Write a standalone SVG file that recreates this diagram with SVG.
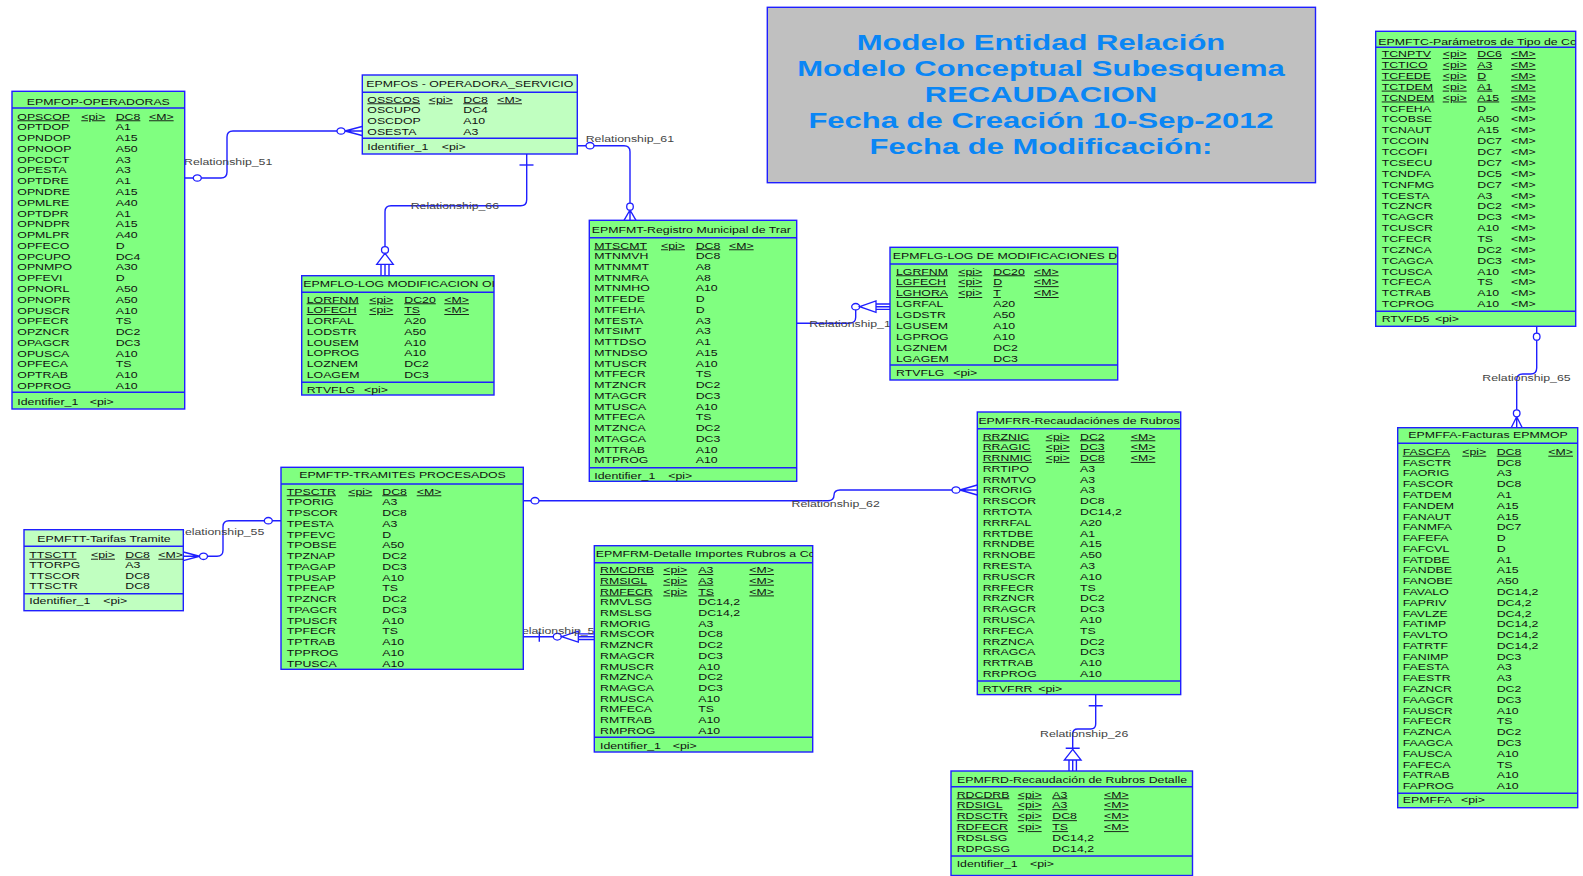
<svg xmlns="http://www.w3.org/2000/svg" width="1583" height="876" viewBox="0 0 1583 876">
<style>
.t{font-family:"Liberation Sans",Arial,sans-serif;font-size:9px;fill:#111}
.u{text-decoration:underline}
.rl{font-family:"Liberation Sans",Arial,sans-serif;font-size:9px;fill:#444}
.box{fill:#80ff80;stroke:#1f1fff;stroke-width:1.4}
.lt{fill:#c0ffc0}
.sep{fill:none;stroke:#1f1fff;stroke-width:1.4}
.c{fill:none;stroke:#1f1fff;stroke-width:1.4}
.o{fill:#fff;stroke:#1f1fff;stroke-width:1.3}
.ttl{font-family:"Liberation Sans",Arial,sans-serif;font-size:22px;font-weight:bold;fill:#0a86f5}
</style>
<defs>
<clipPath id="cLO"><rect x="301.7" y="275.7" width="192.3" height="119.3"/></clipPath>
<clipPath id="cMT"><rect x="589.3" y="220.3" width="207.4" height="261"/></clipPath>
<clipPath id="cLG"><rect x="890" y="247.3" width="227.7" height="132.7"/></clipPath>
<clipPath id="cTC"><rect x="1375.7" y="31.3" width="200" height="295"/></clipPath>
<clipPath id="cRM"><rect x="594.3" y="545.7" width="218.4" height="206.3"/></clipPath>
</defs>
<rect width="1583" height="876" fill="#fff"/>

<g id="connectors">
<path class="c" d="M184.7,178 H221 Q227,178 227,172 V137 Q227,131 233,131 H345"/>
<path class="c" d="M345,131 L362,126.5 M345,131 L362,131 M345,131 L362,135.5"/>
<ellipse class="o" cx="197.3" cy="178" rx="4" ry="3.2"/>
<ellipse class="o" cx="341" cy="131" rx="4" ry="3.2"/>
<text class="rl" transform="translate(184,164.9) scale(1.37,1)">Relationship_51</text>
<path class="c" d="M577.3,145.7 H624 Q630,145.7 630,151.7 V210"/>
<path class="c" d="M630,210 L624,220.3 M630,210 L630,220.3 M630,210 L636,220.3"/>
<ellipse class="o" cx="590" cy="145.7" rx="4" ry="3.2"/>
<ellipse class="o" cx="630" cy="206.7" rx="3.3" ry="3.5"/>
<text class="rl" transform="translate(585.7,141.5) scale(1.37,1)">Relationship_61</text>
<path class="c" d="M526.7,154 V199.7 Q526.7,205.7 520.7,205.7 H391 Q385,205.7 385,211.7 V247"/>
<path class="c" d="M519.5,165 H533.5"/>
<ellipse class="o" cx="385" cy="250" rx="3.5" ry="3.3"/>
<path class="o" d="M385,253.3 L376.7,264.3 H393.3 Z"/>
<path class="c" d="M381,264.3 V275.7 M385,264.3 V275.7 M389,264.3 V275.7"/>
<text class="rl" transform="translate(410.7,209.2) scale(1.37,1)">Relationship_66</text>
<path class="c" d="M796.7,323.3 H849 Q855.7,323.3 855.7,317.3 V310"/>
<ellipse class="o" cx="855.7" cy="306.7" rx="4" ry="3.2"/>
<path class="o" d="M859.7,306.7 L876,301 V312.3 Z"/>
<path class="c" d="M876,304 H890 M876,306.7 H890 M876,309.4 H890"/>
<text class="rl" transform="translate(809.3,326.5) scale(1.37,1)">Relationship_1</text>
<path class="c" d="M523.3,500.7 H828 Q834,500.7 834,495.3 Q834,490 840,490 H960"/>
<path class="c" d="M960,490 L977.3,485 M960,490 L977.3,490 M960,490 L977.3,495"/>
<ellipse class="o" cx="535" cy="500.7" rx="4" ry="3.2"/>
<ellipse class="o" cx="956" cy="490" rx="4" ry="3.2"/>
<text class="rl" transform="translate(791.5,507) scale(1.37,1)">Relationship_62</text>
<path class="c" d="M1536.7,326.3 V368 Q1536.7,374 1530.7,374 H1522.7 Q1516.7,374 1516.7,380 V416.7"/>
<path class="c" d="M1516.7,416.7 L1511.2,427.7 M1516.7,416.7 V427.7 M1516.7,416.7 L1522.2,427.7"/>
<ellipse class="o" cx="1536.7" cy="336.7" rx="3.3" ry="3.5"/>
<ellipse class="o" cx="1516.7" cy="413.3" rx="3.3" ry="3.5"/>
<text class="rl" transform="translate(1482.3,380.9) scale(1.37,1)">Relationship_65</text>
<path class="c" d="M1095.7,694.6 V724 Q1095.7,729 1090.7,729 H1077.7 Q1072.7,729 1072.7,734 V749.3"/>
<path class="c" d="M1088.7,705.7 H1102.7 M1065.7,748.3 H1079.7"/>
<path class="o" d="M1072.7,749.3 L1064.3,760 H1081.1 Z"/>
<path class="c" d="M1069,760 V771 M1072.7,760 V771 M1076.4,760 V771"/>
<text class="rl" transform="translate(1040,736.5) scale(1.37,1)">Relationship_26</text>
<path class="c" d="M281,520.7 H229 Q223,520.7 223,526.7 V550.3 Q223,556.3 217,556.3 H199.5"/>
<path class="c" d="M199.5,556.3 L183.3,552 M199.5,556.3 L183.3,556.3 M199.5,556.3 L183.3,560.6"/>
<ellipse class="o" cx="268.3" cy="520.7" rx="4" ry="3.2"/>
<ellipse class="o" cx="203.5" cy="556.3" rx="4" ry="3.2"/>
<text class="rl" transform="translate(176,535.2) scale(1.37,1)">Relationship_55</text>
<path class="c" d="M523.3,636.7 H561.7 M539.3,631.7 V641.7"/>
<ellipse class="o" cx="557.3" cy="636.7" rx="4" ry="3.4"/>
<path class="o" d="M561.7,636.7 L578.3,631.2 V642.2 Z"/>
<path class="c" d="M578.3,633.9 H594.3 M578.3,636.7 H594.3 M578.3,639.5 H594.3"/>
<text class="rl" transform="translate(513,633.9) scale(1.37,1)">Relationship_5</text>
</g>

<g id="title">
<rect x="767.3" y="7.3" width="548.2" height="175.4" fill="#c0c0c0" stroke="#1f1fff" stroke-width="1.4"/>
<text class="ttl" text-anchor="middle" transform="translate(1041,50.1) scale(1.41,1)">Modelo Entidad Relación</text>
<text class="ttl" text-anchor="middle" transform="translate(1041,76.1) scale(1.41,1)">Modelo Conceptual Subesquema</text>
<text class="ttl" text-anchor="middle" transform="translate(1041,101.8) scale(1.41,1)">RECAUDACION</text>
<text class="ttl" text-anchor="middle" transform="translate(1041,127.8) scale(1.41,1)">Fecha de Creación 10-Sep-2012</text>
<text class="ttl" text-anchor="middle" transform="translate(1041,153.8) scale(1.41,1)">Fecha de Modificación:</text>
</g>

<g id="EPMFOP">
<rect class="box" x="12" y="91.3" width="172.7" height="317.7"/>
<path class="sep" d="M12,108H184.7M12,392.3H184.7"/>
<text class="t" text-anchor="middle" transform="translate(98.3,104.5) scale(1.37,1)">EPMFOP-OPERADORAS</text>
<text class="t" transform="translate(17.3,119.5) scale(1.37,1)"><tspan x="0" class="u">OPSCOP</tspan><tspan x="0" dy="10.78">OPTDOP</tspan><tspan x="0" dy="10.78">OPNDOP</tspan><tspan x="0" dy="10.78">OPNOOP</tspan><tspan x="0" dy="10.78">OPCDCT</tspan><tspan x="0" dy="10.78">OPESTA</tspan><tspan x="0" dy="10.78">OPTDRE</tspan><tspan x="0" dy="10.78">OPNDRE</tspan><tspan x="0" dy="10.78">OPMLRE</tspan><tspan x="0" dy="10.78">OPTDPR</tspan><tspan x="0" dy="10.78">OPNDPR</tspan><tspan x="0" dy="10.78">OPMLPR</tspan><tspan x="0" dy="10.78">OPFECO</tspan><tspan x="0" dy="10.78">OPCUPO</tspan><tspan x="0" dy="10.78">OPNMPO</tspan><tspan x="0" dy="10.78">OPFEVI</tspan><tspan x="0" dy="10.78">OPNORL</tspan><tspan x="0" dy="10.78">OPNOPR</tspan><tspan x="0" dy="10.78">OPUSCR</tspan><tspan x="0" dy="10.78">OPFECR</tspan><tspan x="0" dy="10.78">OPZNCR</tspan><tspan x="0" dy="10.78">OPAGCR</tspan><tspan x="0" dy="10.78">OPUSCA</tspan><tspan x="0" dy="10.78">OPFECA</tspan><tspan x="0" dy="10.78">OPTRAB</tspan><tspan x="0" dy="10.78">OPPROG</tspan></text>
<text class="t u" transform="translate(81.3,119.5) scale(1.37,1)">&lt;pi&gt;</text>
<text class="t" transform="translate(115.7,119.5) scale(1.37,1)"><tspan x="0" class="u">DC8</tspan><tspan x="0" dy="10.78">A1</tspan><tspan x="0" dy="10.78">A15</tspan><tspan x="0" dy="10.78">A50</tspan><tspan x="0" dy="10.78">A3</tspan><tspan x="0" dy="10.78">A3</tspan><tspan x="0" dy="10.78">A1</tspan><tspan x="0" dy="10.78">A15</tspan><tspan x="0" dy="10.78">A40</tspan><tspan x="0" dy="10.78">A1</tspan><tspan x="0" dy="10.78">A15</tspan><tspan x="0" dy="10.78">A40</tspan><tspan x="0" dy="10.78">D</tspan><tspan x="0" dy="10.78">DC4</tspan><tspan x="0" dy="10.78">A30</tspan><tspan x="0" dy="10.78">D</tspan><tspan x="0" dy="10.78">A50</tspan><tspan x="0" dy="10.78">A50</tspan><tspan x="0" dy="10.78">A10</tspan><tspan x="0" dy="10.78">TS</tspan><tspan x="0" dy="10.78">DC2</tspan><tspan x="0" dy="10.78">DC3</tspan><tspan x="0" dy="10.78">A10</tspan><tspan x="0" dy="10.78">TS</tspan><tspan x="0" dy="10.78">A10</tspan><tspan x="0" dy="10.78">A10</tspan></text>
<text class="t u" transform="translate(149,119.5) scale(1.37,1)">&lt;M&gt;</text>
<text class="t" transform="translate(17.3,404.5) scale(1.37,1)">Identifier_1</text>
<text class="t" transform="translate(89.7,404.5) scale(1.37,1)">&lt;pi&gt;</text>
</g>

<g id="EPMFOS">
<rect class="box lt" x="362.3" y="75" width="215" height="79"/>
<path class="sep" d="M362.3,92.3H577.3M362.3,138.3H577.3"/>
<text class="t" text-anchor="middle" transform="translate(469.8,86.5) scale(1.37,1)">EPMFOS - OPERADORA_SERVICIO</text>
<text class="t" transform="translate(367.3,102.5) scale(1.37,1)"><tspan x="0" class="u">OSSCOS</tspan><tspan x="0" dy="10.85">OSCUPO</tspan><tspan x="0" dy="10.85">OSCDOP</tspan><tspan x="0" dy="10.85">OSESTA</tspan></text>
<text class="t u" transform="translate(428.7,102.5) scale(1.37,1)">&lt;pi&gt;</text>
<text class="t" transform="translate(463.3,102.5) scale(1.37,1)"><tspan x="0" class="u">DC8</tspan><tspan x="0" dy="10.85">DC4</tspan><tspan x="0" dy="10.85">A10</tspan><tspan x="0" dy="10.85">A3</tspan></text>
<text class="t u" transform="translate(497.3,102.5) scale(1.37,1)">&lt;M&gt;</text>
<text class="t" transform="translate(367.3,149.5) scale(1.37,1)">Identifier_1</text>
<text class="t" transform="translate(441.7,149.5) scale(1.37,1)">&lt;pi&gt;</text>
</g>

<g id="EPMFLO">
<rect class="box" x="301.7" y="275.7" width="192.3" height="119.3"/>
<path class="sep" d="M301.7,292.3H494M301.7,382.3H494"/>
<g clip-path="url(#cLO)"><text class="t" transform="translate(303.3,287.2) scale(1.37,1)">EPMFLO-LOG MODIFICACION OI</text></g>
<text class="t" transform="translate(306.7,302.5) scale(1.37,1)"><tspan x="0" class="u">LORFNM</tspan><tspan x="0" dy="10.77" class="u">LOFECH</tspan><tspan x="0" dy="10.77">LORFAL</tspan><tspan x="0" dy="10.77">LODSTR</tspan><tspan x="0" dy="10.77">LOUSEM</tspan><tspan x="0" dy="10.77">LOPROG</tspan><tspan x="0" dy="10.77">LOZNEM</tspan><tspan x="0" dy="10.77">LOAGEM</tspan></text>
<text class="t" transform="translate(369.3,302.5) scale(1.37,1)"><tspan x="0" class="u">&lt;pi&gt;</tspan><tspan x="0" dy="10.77" class="u">&lt;pi&gt;</tspan></text>
<text class="t" transform="translate(404.3,302.5) scale(1.37,1)"><tspan x="0" class="u">DC20</tspan><tspan x="0" dy="10.77" class="u">TS</tspan><tspan x="0" dy="10.77">A20</tspan><tspan x="0" dy="10.77">A50</tspan><tspan x="0" dy="10.77">A10</tspan><tspan x="0" dy="10.77">A10</tspan><tspan x="0" dy="10.77">DC2</tspan><tspan x="0" dy="10.77">DC3</tspan></text>
<text class="t" transform="translate(444.3,302.5) scale(1.37,1)"><tspan x="0" class="u">&lt;M&gt;</tspan><tspan x="0" dy="10.77" class="u">&lt;M&gt;</tspan></text>
<text class="t" transform="translate(306.7,392.5) scale(1.37,1)">RTVFLG</text>
<text class="t" transform="translate(364,392.5) scale(1.37,1)">&lt;pi&gt;</text>
</g>

<g id="EPMFMT">
<rect class="box" x="589.3" y="220.3" width="207.4" height="261"/>
<path class="sep" d="M589.3,237.7H796.7M589.3,467.7H796.7"/>
<g clip-path="url(#cMT)"><text class="t" transform="translate(591.7,232.5) scale(1.37,1)">EPMFMT-Registro Municipal de Trar</text></g>
<text class="t" transform="translate(594.3,248.5) scale(1.37,1)"><tspan x="0" class="u">MTSCMT</tspan><tspan x="0" dy="10.75">MTNMVH</tspan><tspan x="0" dy="10.75">MTNMMT</tspan><tspan x="0" dy="10.75">MTNMRA</tspan><tspan x="0" dy="10.75">MTNMHO</tspan><tspan x="0" dy="10.75">MTFEDE</tspan><tspan x="0" dy="10.75">MTFEHA</tspan><tspan x="0" dy="10.75">MTESTA</tspan><tspan x="0" dy="10.75">MTSIMT</tspan><tspan x="0" dy="10.75">MTTDSO</tspan><tspan x="0" dy="10.75">MTNDSO</tspan><tspan x="0" dy="10.75">MTUSCR</tspan><tspan x="0" dy="10.75">MTFECR</tspan><tspan x="0" dy="10.75">MTZNCR</tspan><tspan x="0" dy="10.75">MTAGCR</tspan><tspan x="0" dy="10.75">MTUSCA</tspan><tspan x="0" dy="10.75">MTFECA</tspan><tspan x="0" dy="10.75">MTZNCA</tspan><tspan x="0" dy="10.75">MTAGCA</tspan><tspan x="0" dy="10.75">MTTRAB</tspan><tspan x="0" dy="10.75">MTPROG</tspan></text>
<text class="t u" transform="translate(661,248.5) scale(1.37,1)">&lt;pi&gt;</text>
<text class="t" transform="translate(695.7,248.5) scale(1.37,1)"><tspan x="0" class="u">DC8</tspan><tspan x="0" dy="10.75">DC8</tspan><tspan x="0" dy="10.75">A8</tspan><tspan x="0" dy="10.75">A8</tspan><tspan x="0" dy="10.75">A10</tspan><tspan x="0" dy="10.75">D</tspan><tspan x="0" dy="10.75">D</tspan><tspan x="0" dy="10.75">A3</tspan><tspan x="0" dy="10.75">A3</tspan><tspan x="0" dy="10.75">A1</tspan><tspan x="0" dy="10.75">A15</tspan><tspan x="0" dy="10.75">A10</tspan><tspan x="0" dy="10.75">TS</tspan><tspan x="0" dy="10.75">DC2</tspan><tspan x="0" dy="10.75">DC3</tspan><tspan x="0" dy="10.75">A10</tspan><tspan x="0" dy="10.75">TS</tspan><tspan x="0" dy="10.75">DC2</tspan><tspan x="0" dy="10.75">DC3</tspan><tspan x="0" dy="10.75">A10</tspan><tspan x="0" dy="10.75">A10</tspan></text>
<text class="t u" transform="translate(729,248.5) scale(1.37,1)">&lt;M&gt;</text>
<text class="t" transform="translate(594.3,478.5) scale(1.37,1)">Identifier_1</text>
<text class="t" transform="translate(668.3,478.5) scale(1.37,1)">&lt;pi&gt;</text>
</g>

<g id="EPMFLG">
<rect class="box" x="890" y="247.3" width="227.7" height="132.7"/>
<path class="sep" d="M890,264H1117.7M890,365H1117.7"/>
<g clip-path="url(#cLG)"><text class="t" transform="translate(892.7,258.9) scale(1.37,1)">EPMFLG-LOG DE MODIFICACIONES DI</text></g>
<text class="t" transform="translate(896,274.5) scale(1.37,1)"><tspan x="0" class="u">LGRFNM</tspan><tspan x="0" dy="10.88" class="u">LGFECH</tspan><tspan x="0" dy="10.88" class="u">LGHORA</tspan><tspan x="0" dy="10.88">LGRFAL</tspan><tspan x="0" dy="10.88">LGDSTR</tspan><tspan x="0" dy="10.88">LGUSEM</tspan><tspan x="0" dy="10.88">LGPROG</tspan><tspan x="0" dy="10.88">LGZNEM</tspan><tspan x="0" dy="10.88">LGAGEM</tspan></text>
<text class="t" transform="translate(958.3,274.5) scale(1.37,1)"><tspan x="0" class="u">&lt;pi&gt;</tspan><tspan x="0" dy="10.88" class="u">&lt;pi&gt;</tspan><tspan x="0" dy="10.88" class="u">&lt;pi&gt;</tspan></text>
<text class="t" transform="translate(993.3,274.5) scale(1.37,1)"><tspan x="0" class="u">DC20</tspan><tspan x="0" dy="10.88" class="u">D</tspan><tspan x="0" dy="10.88" class="u">T</tspan><tspan x="0" dy="10.88">A20</tspan><tspan x="0" dy="10.88">A50</tspan><tspan x="0" dy="10.88">A10</tspan><tspan x="0" dy="10.88">A10</tspan><tspan x="0" dy="10.88">DC2</tspan><tspan x="0" dy="10.88">DC3</tspan></text>
<text class="t" transform="translate(1034,274.5) scale(1.37,1)"><tspan x="0" class="u">&lt;M&gt;</tspan><tspan x="0" dy="10.88" class="u">&lt;M&gt;</tspan><tspan x="0" dy="10.88" class="u">&lt;M&gt;</tspan></text>
<text class="t" transform="translate(896,375.5) scale(1.37,1)">RTVFLG</text>
<text class="t" transform="translate(953.3,375.5) scale(1.37,1)">&lt;pi&gt;</text>
</g>

<g id="EPMFTC">
<rect class="box" x="1375.7" y="31.3" width="200" height="295"/>
<path class="sep" d="M1375.7,47.3H1575.7M1375.7,311.3H1575.7"/>
<g clip-path="url(#cTC)"><text class="t" transform="translate(1378.3,44.5) scale(1.37,1)">EPMFTC-Parámetros de Tipo de Cc</text></g>
<text class="t" transform="translate(1381.7,57.2) scale(1.37,1)"><tspan x="0" class="u">TCNPTV</tspan><tspan x="0" dy="10.87" class="u">TCTICO</tspan><tspan x="0" dy="10.87" class="u">TCFEDE</tspan><tspan x="0" dy="10.87" class="u">TCTDEM</tspan><tspan x="0" dy="10.87" class="u">TCNDEM</tspan><tspan x="0" dy="10.87">TCFEHA</tspan><tspan x="0" dy="10.87">TCOBSE</tspan><tspan x="0" dy="10.87">TCNAUT</tspan><tspan x="0" dy="10.87">TCCOIN</tspan><tspan x="0" dy="10.87">TCCOFI</tspan><tspan x="0" dy="10.87">TCSECU</tspan><tspan x="0" dy="10.87">TCNDFA</tspan><tspan x="0" dy="10.87">TCNFMG</tspan><tspan x="0" dy="10.87">TCESTA</tspan><tspan x="0" dy="10.87">TCZNCR</tspan><tspan x="0" dy="10.87">TCAGCR</tspan><tspan x="0" dy="10.87">TCUSCR</tspan><tspan x="0" dy="10.87">TCFECR</tspan><tspan x="0" dy="10.87">TCZNCA</tspan><tspan x="0" dy="10.87">TCAGCA</tspan><tspan x="0" dy="10.87">TCUSCA</tspan><tspan x="0" dy="10.87">TCFECA</tspan><tspan x="0" dy="10.87">TCTRAB</tspan><tspan x="0" dy="10.87">TCPROG</tspan></text>
<text class="t" transform="translate(1442.7,57.2) scale(1.37,1)"><tspan x="0" class="u">&lt;pi&gt;</tspan><tspan x="0" dy="10.87" class="u">&lt;pi&gt;</tspan><tspan x="0" dy="10.87" class="u">&lt;pi&gt;</tspan><tspan x="0" dy="10.87" class="u">&lt;pi&gt;</tspan><tspan x="0" dy="10.87" class="u">&lt;pi&gt;</tspan></text>
<text class="t" transform="translate(1477.3,57.2) scale(1.37,1)"><tspan x="0" class="u">DC6</tspan><tspan x="0" dy="10.87" class="u">A3</tspan><tspan x="0" dy="10.87" class="u">D</tspan><tspan x="0" dy="10.87" class="u">A1</tspan><tspan x="0" dy="10.87" class="u">A15</tspan><tspan x="0" dy="10.87">D</tspan><tspan x="0" dy="10.87">A50</tspan><tspan x="0" dy="10.87">A15</tspan><tspan x="0" dy="10.87">DC7</tspan><tspan x="0" dy="10.87">DC7</tspan><tspan x="0" dy="10.87">DC7</tspan><tspan x="0" dy="10.87">DC5</tspan><tspan x="0" dy="10.87">DC7</tspan><tspan x="0" dy="10.87">A3</tspan><tspan x="0" dy="10.87">DC2</tspan><tspan x="0" dy="10.87">DC3</tspan><tspan x="0" dy="10.87">A10</tspan><tspan x="0" dy="10.87">TS</tspan><tspan x="0" dy="10.87">DC2</tspan><tspan x="0" dy="10.87">DC3</tspan><tspan x="0" dy="10.87">A10</tspan><tspan x="0" dy="10.87">TS</tspan><tspan x="0" dy="10.87">A10</tspan><tspan x="0" dy="10.87">A10</tspan></text>
<text class="t" transform="translate(1511,57.2) scale(1.37,1)"><tspan x="0" class="u">&lt;M&gt;</tspan><tspan x="0" dy="10.87" class="u">&lt;M&gt;</tspan><tspan x="0" dy="10.87" class="u">&lt;M&gt;</tspan><tspan x="0" dy="10.87" class="u">&lt;M&gt;</tspan><tspan x="0" dy="10.87" class="u">&lt;M&gt;</tspan><tspan x="0" dy="10.87">&lt;M&gt;</tspan><tspan x="0" dy="10.87">&lt;M&gt;</tspan><tspan x="0" dy="10.87">&lt;M&gt;</tspan><tspan x="0" dy="10.87">&lt;M&gt;</tspan><tspan x="0" dy="10.87">&lt;M&gt;</tspan><tspan x="0" dy="10.87">&lt;M&gt;</tspan><tspan x="0" dy="10.87">&lt;M&gt;</tspan><tspan x="0" dy="10.87">&lt;M&gt;</tspan><tspan x="0" dy="10.87">&lt;M&gt;</tspan><tspan x="0" dy="10.87">&lt;M&gt;</tspan><tspan x="0" dy="10.87">&lt;M&gt;</tspan><tspan x="0" dy="10.87">&lt;M&gt;</tspan><tspan x="0" dy="10.87">&lt;M&gt;</tspan><tspan x="0" dy="10.87">&lt;M&gt;</tspan><tspan x="0" dy="10.87">&lt;M&gt;</tspan><tspan x="0" dy="10.87">&lt;M&gt;</tspan><tspan x="0" dy="10.87">&lt;M&gt;</tspan><tspan x="0" dy="10.87">&lt;M&gt;</tspan><tspan x="0" dy="10.87">&lt;M&gt;</tspan></text>
<text class="t" transform="translate(1381.7,321.9) scale(1.37,1)">RTVFD5</text>
<text class="t" transform="translate(1435,321.9) scale(1.37,1)">&lt;pi&gt;</text>
</g>

<g id="EPMFFA">
<rect class="box" x="1397.7" y="427.7" width="180" height="380"/>
<path class="sep" d="M1397.7,443.3H1577.7M1397.7,793.3H1577.7"/>
<text class="t" text-anchor="middle" transform="translate(1488,438.2) scale(1.37,1)">EPMFFA-Facturas  EPMMOP</text>
<text class="t" transform="translate(1402.7,454.9) scale(1.37,1)"><tspan x="0" class="u">FASCFA</tspan><tspan x="0" dy="10.78">FASCTR</tspan><tspan x="0" dy="10.78">FAORIG</tspan><tspan x="0" dy="10.78">FASCOR</tspan><tspan x="0" dy="10.78">FATDEM</tspan><tspan x="0" dy="10.78">FANDEM</tspan><tspan x="0" dy="10.78">FANAUT</tspan><tspan x="0" dy="10.78">FANMFA</tspan><tspan x="0" dy="10.78">FAFEFA</tspan><tspan x="0" dy="10.78">FAFCVL</tspan><tspan x="0" dy="10.78">FATDBE</tspan><tspan x="0" dy="10.78">FANDBE</tspan><tspan x="0" dy="10.78">FANOBE</tspan><tspan x="0" dy="10.78">FAVALO</tspan><tspan x="0" dy="10.78">FAPRIV</tspan><tspan x="0" dy="10.78">FAVLZE</tspan><tspan x="0" dy="10.78">FATIMP</tspan><tspan x="0" dy="10.78">FAVLTO</tspan><tspan x="0" dy="10.78">FATRTF</tspan><tspan x="0" dy="10.78">FANIMP</tspan><tspan x="0" dy="10.78">FAESTA</tspan><tspan x="0" dy="10.78">FAESTR</tspan><tspan x="0" dy="10.78">FAZNCR</tspan><tspan x="0" dy="10.78">FAAGCR</tspan><tspan x="0" dy="10.78">FAUSCR</tspan><tspan x="0" dy="10.78">FAFECR</tspan><tspan x="0" dy="10.78">FAZNCA</tspan><tspan x="0" dy="10.78">FAAGCA</tspan><tspan x="0" dy="10.78">FAUSCA</tspan><tspan x="0" dy="10.78">FAFECA</tspan><tspan x="0" dy="10.78">FATRAB</tspan><tspan x="0" dy="10.78">FAPROG</tspan></text>
<text class="t u" transform="translate(1462.3,454.9) scale(1.37,1)">&lt;pi&gt;</text>
<text class="t" transform="translate(1496.7,454.9) scale(1.37,1)"><tspan x="0" class="u">DC8</tspan><tspan x="0" dy="10.78">DC8</tspan><tspan x="0" dy="10.78">A3</tspan><tspan x="0" dy="10.78">DC8</tspan><tspan x="0" dy="10.78">A1</tspan><tspan x="0" dy="10.78">A15</tspan><tspan x="0" dy="10.78">A15</tspan><tspan x="0" dy="10.78">DC7</tspan><tspan x="0" dy="10.78">D</tspan><tspan x="0" dy="10.78">D</tspan><tspan x="0" dy="10.78">A1</tspan><tspan x="0" dy="10.78">A15</tspan><tspan x="0" dy="10.78">A50</tspan><tspan x="0" dy="10.78">DC14,2</tspan><tspan x="0" dy="10.78">DC4,2</tspan><tspan x="0" dy="10.78">DC4,2</tspan><tspan x="0" dy="10.78">DC14,2</tspan><tspan x="0" dy="10.78">DC14,2</tspan><tspan x="0" dy="10.78">DC14,2</tspan><tspan x="0" dy="10.78">DC3</tspan><tspan x="0" dy="10.78">A3</tspan><tspan x="0" dy="10.78">A3</tspan><tspan x="0" dy="10.78">DC2</tspan><tspan x="0" dy="10.78">DC3</tspan><tspan x="0" dy="10.78">A10</tspan><tspan x="0" dy="10.78">TS</tspan><tspan x="0" dy="10.78">DC2</tspan><tspan x="0" dy="10.78">DC3</tspan><tspan x="0" dy="10.78">A10</tspan><tspan x="0" dy="10.78">TS</tspan><tspan x="0" dy="10.78">A10</tspan><tspan x="0" dy="10.78">A10</tspan></text>
<text class="t u" transform="translate(1548.3,454.9) scale(1.37,1)">&lt;M&gt;</text>
<text class="t" transform="translate(1402.7,803.2) scale(1.37,1)">EPMFFA</text>
<text class="t" transform="translate(1461,803.2) scale(1.37,1)">&lt;pi&gt;</text>
</g>

<g id="EPMFRR">
<rect class="box" x="977.3" y="412" width="203.4" height="282.6"/>
<path class="sep" d="M977.3,428.7H1180.7M977.3,681H1180.7"/>
<text class="t" text-anchor="middle" transform="translate(1079,424.2) scale(1.37,1)">EPMFRR-Recaudaciónes de Rubros</text>
<text class="t" transform="translate(982.7,439.5) scale(1.37,1)"><tspan x="0" class="u">RRZNIC</tspan><tspan x="0" dy="10.79" class="u">RRAGIC</tspan><tspan x="0" dy="10.79" class="u">RRNMIC</tspan><tspan x="0" dy="10.79">RRTIPO</tspan><tspan x="0" dy="10.79">RRMTVO</tspan><tspan x="0" dy="10.79">RRORIG</tspan><tspan x="0" dy="10.79">RRSCOR</tspan><tspan x="0" dy="10.79">RRTOTA</tspan><tspan x="0" dy="10.79">RRRFAL</tspan><tspan x="0" dy="10.79">RRTDBE</tspan><tspan x="0" dy="10.79">RRNDBE</tspan><tspan x="0" dy="10.79">RRNOBE</tspan><tspan x="0" dy="10.79">RRESTA</tspan><tspan x="0" dy="10.79">RRUSCR</tspan><tspan x="0" dy="10.79">RRFECR</tspan><tspan x="0" dy="10.79">RRZNCR</tspan><tspan x="0" dy="10.79">RRAGCR</tspan><tspan x="0" dy="10.79">RRUSCA</tspan><tspan x="0" dy="10.79">RRFECA</tspan><tspan x="0" dy="10.79">RRZNCA</tspan><tspan x="0" dy="10.79">RRAGCA</tspan><tspan x="0" dy="10.79">RRTRAB</tspan><tspan x="0" dy="10.79">RRPROG</tspan></text>
<text class="t" transform="translate(1045.7,439.5) scale(1.37,1)"><tspan x="0" class="u">&lt;pi&gt;</tspan><tspan x="0" dy="10.79" class="u">&lt;pi&gt;</tspan><tspan x="0" dy="10.79" class="u">&lt;pi&gt;</tspan></text>
<text class="t" transform="translate(1080,439.5) scale(1.37,1)"><tspan x="0" class="u">DC2</tspan><tspan x="0" dy="10.79" class="u">DC3</tspan><tspan x="0" dy="10.79" class="u">DC8</tspan><tspan x="0" dy="10.79">A3</tspan><tspan x="0" dy="10.79">A3</tspan><tspan x="0" dy="10.79">A3</tspan><tspan x="0" dy="10.79">DC8</tspan><tspan x="0" dy="10.79">DC14,2</tspan><tspan x="0" dy="10.79">A20</tspan><tspan x="0" dy="10.79">A1</tspan><tspan x="0" dy="10.79">A15</tspan><tspan x="0" dy="10.79">A50</tspan><tspan x="0" dy="10.79">A3</tspan><tspan x="0" dy="10.79">A10</tspan><tspan x="0" dy="10.79">TS</tspan><tspan x="0" dy="10.79">DC2</tspan><tspan x="0" dy="10.79">DC3</tspan><tspan x="0" dy="10.79">A10</tspan><tspan x="0" dy="10.79">TS</tspan><tspan x="0" dy="10.79">DC2</tspan><tspan x="0" dy="10.79">DC3</tspan><tspan x="0" dy="10.79">A10</tspan><tspan x="0" dy="10.79">A10</tspan></text>
<text class="t" transform="translate(1130.7,439.5) scale(1.37,1)"><tspan x="0" class="u">&lt;M&gt;</tspan><tspan x="0" dy="10.79" class="u">&lt;M&gt;</tspan><tspan x="0" dy="10.79" class="u">&lt;M&gt;</tspan></text>
<text class="t" transform="translate(982.7,691.9) scale(1.37,1)">RTVFRR</text>
<text class="t" transform="translate(1038.3,691.9) scale(1.37,1)">&lt;pi&gt;</text>
</g>

<g id="EPMFRD">
<rect class="box" x="951" y="771" width="241.5" height="104.5"/>
<path class="sep" d="M951,786.7H1192.5M951,856H1192.5"/>
<text class="t" text-anchor="middle" transform="translate(1072,782.5) scale(1.37,1)">EPMFRD-Recaudación de Rubros Detalle</text>
<text class="t" transform="translate(956.7,797.5) scale(1.37,1)"><tspan x="0" class="u">RDCDRB</tspan><tspan x="0" dy="10.95" class="u">RDSIGL</tspan><tspan x="0" dy="10.95" class="u">RDSCTR</tspan><tspan x="0" dy="10.95" class="u">RDFECR</tspan><tspan x="0" dy="10.95">RDSLSG</tspan><tspan x="0" dy="10.95">RDPGSG</tspan></text>
<text class="t" transform="translate(1017.7,797.5) scale(1.37,1)"><tspan x="0" class="u">&lt;pi&gt;</tspan><tspan x="0" dy="10.95" class="u">&lt;pi&gt;</tspan><tspan x="0" dy="10.95" class="u">&lt;pi&gt;</tspan><tspan x="0" dy="10.95" class="u">&lt;pi&gt;</tspan></text>
<text class="t" transform="translate(1052.3,797.5) scale(1.37,1)"><tspan x="0" class="u">A3</tspan><tspan x="0" dy="10.95" class="u">A3</tspan><tspan x="0" dy="10.95" class="u">DC8</tspan><tspan x="0" dy="10.95" class="u">TS</tspan><tspan x="0" dy="10.95">DC14,2</tspan><tspan x="0" dy="10.95">DC14,2</tspan></text>
<text class="t" transform="translate(1104,797.5) scale(1.37,1)"><tspan x="0" class="u">&lt;M&gt;</tspan><tspan x="0" dy="10.95" class="u">&lt;M&gt;</tspan><tspan x="0" dy="10.95" class="u">&lt;M&gt;</tspan><tspan x="0" dy="10.95" class="u">&lt;M&gt;</tspan></text>
<text class="t" transform="translate(956.7,866.5) scale(1.37,1)">Identifier_1</text>
<text class="t" transform="translate(1030,866.5) scale(1.37,1)">&lt;pi&gt;</text>
</g>

<g id="EPMFTT">
<rect class="box lt" x="24" y="529.7" width="159.3" height="81"/>
<path class="sep" d="M24,546.3H183.3M24,593.7H183.3"/>
<text class="t" text-anchor="middle" transform="translate(104,542.2) scale(1.37,1)">EPMFTT-Tarifas Tramite</text>
<text class="t" transform="translate(29.3,557.9) scale(1.37,1)"><tspan x="0" class="u">TTSCTT</tspan><tspan x="0" dy="10.33">TTORPG</tspan><tspan x="0" dy="10.33">TTSCOR</tspan><tspan x="0" dy="10.33">TTSCTR</tspan></text>
<text class="t u" transform="translate(91,557.9) scale(1.37,1)">&lt;pi&gt;</text>
<text class="t" transform="translate(125.3,557.9) scale(1.37,1)"><tspan x="0" class="u">DC8</tspan><tspan x="0" dy="10.33">A3</tspan><tspan x="0" dy="10.33">DC8</tspan><tspan x="0" dy="10.33">DC8</tspan></text>
<text class="t u" transform="translate(158.3,557.9) scale(1.37,1)">&lt;M&gt;</text>
<text class="t" transform="translate(29.3,603.9) scale(1.37,1)">Identifier_1</text>
<text class="t" transform="translate(103.3,603.9) scale(1.37,1)">&lt;pi&gt;</text>
</g>

<g id="EPMFTP">
<rect class="box" x="281" y="467.3" width="242.3" height="202"/>
<path class="sep" d="M281,484H523.3"/>
<text class="t" text-anchor="middle" transform="translate(402.5,477.9) scale(1.37,1)">EPMFTP-TRAMITES PROCESADOS</text>
<text class="t" transform="translate(286.7,494.5) scale(1.37,1)"><tspan x="0" class="u">TPSCTR</tspan><tspan x="0" dy="10.77">TPORIG</tspan><tspan x="0" dy="10.77">TPSCOR</tspan><tspan x="0" dy="10.77">TPESTA</tspan><tspan x="0" dy="10.77">TPFEVC</tspan><tspan x="0" dy="10.77">TPOBSE</tspan><tspan x="0" dy="10.77">TPZNAP</tspan><tspan x="0" dy="10.77">TPAGAP</tspan><tspan x="0" dy="10.77">TPUSAP</tspan><tspan x="0" dy="10.77">TPFEAP</tspan><tspan x="0" dy="10.77">TPZNCR</tspan><tspan x="0" dy="10.77">TPAGCR</tspan><tspan x="0" dy="10.77">TPUSCR</tspan><tspan x="0" dy="10.77">TPFECR</tspan><tspan x="0" dy="10.77">TPTRAB</tspan><tspan x="0" dy="10.77">TPPROG</tspan><tspan x="0" dy="10.77">TPUSCA</tspan></text>
<text class="t u" transform="translate(348.3,494.5) scale(1.37,1)">&lt;pi&gt;</text>
<text class="t" transform="translate(382.3,494.5) scale(1.37,1)"><tspan x="0" class="u">DC8</tspan><tspan x="0" dy="10.77">A3</tspan><tspan x="0" dy="10.77">DC8</tspan><tspan x="0" dy="10.77">A3</tspan><tspan x="0" dy="10.77">D</tspan><tspan x="0" dy="10.77">A50</tspan><tspan x="0" dy="10.77">DC2</tspan><tspan x="0" dy="10.77">DC3</tspan><tspan x="0" dy="10.77">A10</tspan><tspan x="0" dy="10.77">TS</tspan><tspan x="0" dy="10.77">DC2</tspan><tspan x="0" dy="10.77">DC3</tspan><tspan x="0" dy="10.77">A10</tspan><tspan x="0" dy="10.77">TS</tspan><tspan x="0" dy="10.77">A10</tspan><tspan x="0" dy="10.77">A10</tspan><tspan x="0" dy="10.77">A10</tspan></text>
<text class="t u" transform="translate(416.7,494.5) scale(1.37,1)">&lt;M&gt;</text>
</g>

<g id="EPMFRM">
<rect class="box" x="594.3" y="545.7" width="218.4" height="206.3"/>
<path class="sep" d="M594.3,562.7H812.7M594.3,737.3H812.7"/>
<g clip-path="url(#cRM)"><text class="t" transform="translate(595.7,557.2) scale(1.37,1)">EPMFRM-Detalle Importes Rubros a Cc</text></g>
<text class="t" transform="translate(600,573.2) scale(1.37,1)"><tspan x="0" class="u">RMCDRB</tspan><tspan x="0" dy="10.71" class="u">RMSIGL</tspan><tspan x="0" dy="10.71" class="u">RMFECR</tspan><tspan x="0" dy="10.71">RMVLSG</tspan><tspan x="0" dy="10.71">RMSLSG</tspan><tspan x="0" dy="10.71">RMORIG</tspan><tspan x="0" dy="10.71">RMSCOR</tspan><tspan x="0" dy="10.71">RMZNCR</tspan><tspan x="0" dy="10.71">RMAGCR</tspan><tspan x="0" dy="10.71">RMUSCR</tspan><tspan x="0" dy="10.71">RMZNCA</tspan><tspan x="0" dy="10.71">RMAGCA</tspan><tspan x="0" dy="10.71">RMUSCA</tspan><tspan x="0" dy="10.71">RMFECA</tspan><tspan x="0" dy="10.71">RMTRAB</tspan><tspan x="0" dy="10.71">RMPROG</tspan></text>
<text class="t" transform="translate(663.3,573.2) scale(1.37,1)"><tspan x="0" class="u">&lt;pi&gt;</tspan><tspan x="0" dy="10.71" class="u">&lt;pi&gt;</tspan><tspan x="0" dy="10.71" class="u">&lt;pi&gt;</tspan></text>
<text class="t" transform="translate(698.3,573.2) scale(1.37,1)"><tspan x="0" class="u">A3</tspan><tspan x="0" dy="10.71" class="u">A3</tspan><tspan x="0" dy="10.71" class="u">TS</tspan><tspan x="0" dy="10.71">DC14,2</tspan><tspan x="0" dy="10.71">DC14,2</tspan><tspan x="0" dy="10.71">A3</tspan><tspan x="0" dy="10.71">DC8</tspan><tspan x="0" dy="10.71">DC2</tspan><tspan x="0" dy="10.71">DC3</tspan><tspan x="0" dy="10.71">A10</tspan><tspan x="0" dy="10.71">DC2</tspan><tspan x="0" dy="10.71">DC3</tspan><tspan x="0" dy="10.71">A10</tspan><tspan x="0" dy="10.71">TS</tspan><tspan x="0" dy="10.71">A10</tspan><tspan x="0" dy="10.71">A10</tspan></text>
<text class="t" transform="translate(749.3,573.2) scale(1.37,1)"><tspan x="0" class="u">&lt;M&gt;</tspan><tspan x="0" dy="10.71" class="u">&lt;M&gt;</tspan><tspan x="0" dy="10.71" class="u">&lt;M&gt;</tspan></text>
<text class="t" transform="translate(600,748.9) scale(1.37,1)">Identifier_1</text>
<text class="t" transform="translate(672.7,748.9) scale(1.37,1)">&lt;pi&gt;</text>
</g>
</svg>
